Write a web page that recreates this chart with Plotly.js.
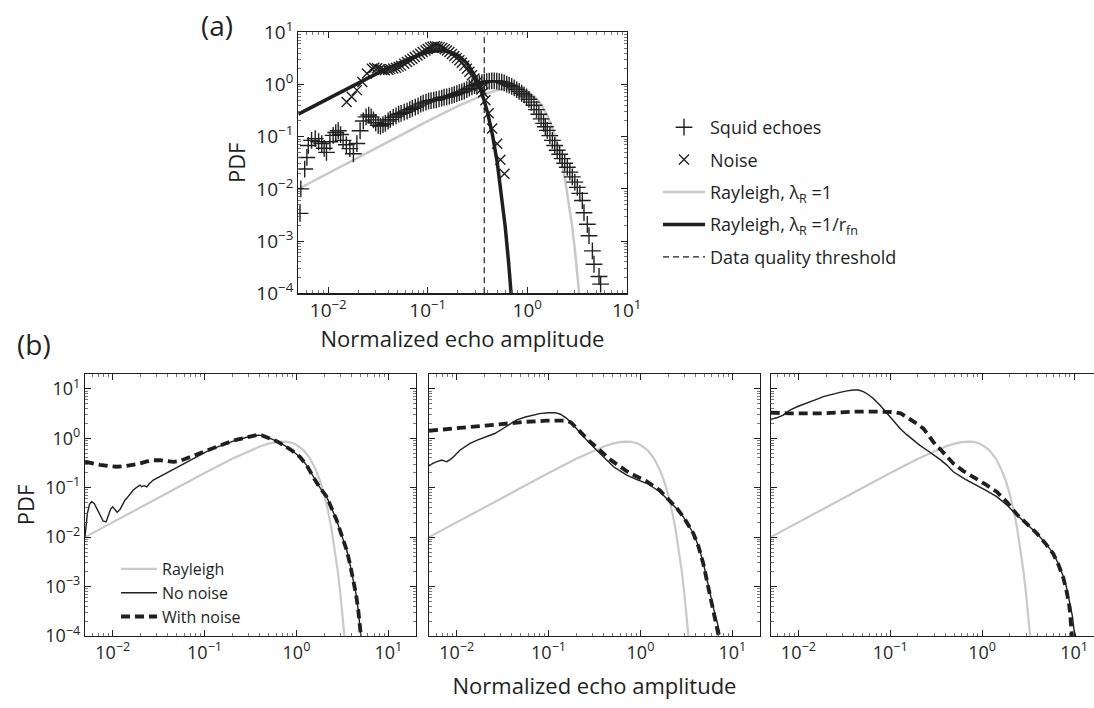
<!DOCTYPE html>
<html><head><meta charset="utf-8">
<script src="https://cdn.plot.ly/plotly-3.0.1.min.js"></script>
<style>html,body{margin:0;padding:0;background:#fff}</style>
</head><body><div id="chart" style="width:1094px;height:708px"></div>
<script>
// ---------- Panel (a) ----------
const rayX = [0.005,0.01,0.02,0.05,0.1,0.2,0.3,0.4,0.5,0.6,0.7,0.8,0.9,1.0,1.2,1.4,1.6,1.8,2.0,2.2,2.4,2.6,2.8,3.0,3.2,3.4];
const rayY = [0.01,0.02,0.04,0.0998,0.198,0.384,0.548,0.681,0.779,0.837,0.857,0.844,0.802,0.736,0.569,0.394,0.246,0.141,0.0733,0.0348,0.0151,0.00604,0.00221,0.00074,0.000229,0.000065];

const fitX = [0.005,0.01,0.02,0.03,0.05,0.07,0.1,0.12,0.14,0.16,0.2,0.25,0.3,0.35,0.4,0.45,0.5,0.55,0.6,0.65,0.7];
const fitY = [0.27,0.538,1.068,1.581,2.524,3.311,4.122,4.393,4.454,4.328,3.668,2.498,1.426,0.691,0.287,0.1025,0.0316,0.0084,0.00194,0.00039,0.000067];

const thrX = [0.37,0.37];
const thrY = [0.0001,10];

const echoX = [0.0052,0.0053,0.0058,0.0061,0.0063,0.0068,0.0074,0.008,0.0086,0.0091,0.0096,0.0104,0.0112,0.0119,0.0126,0.0133,0.0141,0.0152,0.0165,0.0179,0.0194,0.0209,0.0225,0.024,0.0255,0.027,0.0285,0.03,0.0318,0.0335,0.0355,0.0375,0.04,0.042,0.045,0.048,0.051,0.054,0.058,0.062,0.066,0.07,0.075,0.08,0.085,0.09,0.096,0.102,0.108,0.115,0.122,0.13,0.138,0.146,0.155,0.165,0.175,0.185,0.196,0.208,0.22,0.233,0.247,0.262,0.278,0.295,0.312,0.33,0.35,0.37,0.392,0.415,0.44,0.466,0.494,0.523,0.554,0.587,0.622,0.659,0.698,0.74,0.784,0.83,0.88,0.93,0.985,1.04,1.1,1.17,1.24,1.31,1.38,1.46,1.52,1.59,1.69,1.79,1.89,2.0,2.12,2.25,2.38,2.53,2.68,2.84,3.01,3.19,3.38,3.58,3.72,4.02,4.18,4.52,4.69,5.27,5.47];
const echoY = [0.0034,0.01,0.024,0.04,0.068,0.085,0.092,0.08,0.074,0.06,0.05,0.08,0.106,0.12,0.13,0.11,0.085,0.07,0.059,0.047,0.074,0.13,0.2,0.24,0.26,0.24,0.21,0.185,0.165,0.16,0.17,0.18,0.2,0.215,0.235,0.25,0.27,0.28,0.295,0.31,0.33,0.35,0.37,0.39,0.42,0.44,0.46,0.48,0.49,0.5,0.51,0.53,0.55,0.57,0.58,0.6,0.62,0.64,0.67,0.7,0.72,0.75,0.8,0.85,0.9,0.95,1.0,1.04,1.08,1.11,1.14,1.16,1.17,1.17,1.16,1.14,1.11,1.07,1.02,0.97,0.92,0.86,0.8,0.74,0.68,0.63,0.58,0.52,0.46,0.4,0.33,0.27,0.22,0.18,0.155,0.132,0.105,0.085,0.068,0.055,0.046,0.038,0.031,0.026,0.021,0.017,0.0135,0.0107,0.0082,0.006,0.0035,0.0021,0.00127,0.00065,0.00036,0.00021,0.00015];

const noiseX = [0.0153,0.0172,0.0194,0.022,0.0245,0.0275,0.029,0.031,0.033,0.035,0.037,0.04,0.042,0.045,0.048,0.051,0.054,0.058,0.062,0.066,0.07,0.074,0.079,0.084,0.089,0.095,0.1,0.106,0.112,0.118,0.125,0.132,0.14,0.148,0.156,0.165,0.175,0.185,0.196,0.208,0.22,0.233,0.247,0.262,0.278,0.295,0.312,0.33,0.345,0.36,0.38,0.41,0.444,0.499,0.538,0.59];
const noiseY = [0.46,0.58,0.78,1.12,1.63,2.0,2.1,2.05,1.95,1.9,1.88,1.92,1.97,2.02,2.1,2.2,2.3,2.5,2.7,2.9,3.1,3.35,3.6,3.9,4.2,4.5,4.8,5.1,5.3,5.4,5.35,5.2,5.0,4.75,4.5,4.2,3.85,3.5,3.2,2.9,2.6,2.3,2.0,1.75,1.5,1.3,1.1,0.93,0.8,0.7,0.5,0.28,0.143,0.073,0.036,0.0195];

// ---------- Panel (b) ----------
const nn1X = [0.005,0.0053,0.0056,0.0059,0.0063,0.0068,0.0073,0.0079,0.0085,0.009,0.0095,0.01,0.0106,0.0112,0.012,0.0128,0.0136,0.0142,0.015,0.016,0.0168,0.018,0.0198,0.0207,0.022,0.0235,0.025,0.0277,0.03,0.0327,0.036,0.04,0.0457,0.052,0.06,0.075,0.09,0.105,0.13,0.174,0.22,0.29,0.33,0.37,0.42,0.47,0.55,0.65,0.78,0.9,1.09,1.3,1.52,1.8,2.13,2.4,2.74,3.1,3.52,3.85,4.15,4.45,4.71,4.9,5.03];
const nn1Y = [0.0102,0.03,0.046,0.052,0.048,0.036,0.027,0.021,0.0205,0.028,0.037,0.041,0.035,0.032,0.036,0.047,0.056,0.061,0.07,0.083,0.09,0.1,0.113,0.105,0.11,0.104,0.12,0.143,0.155,0.172,0.19,0.21,0.24,0.27,0.31,0.39,0.47,0.54,0.64,0.79,0.92,1.05,1.1,1.16,1.14,1.07,0.95,0.82,0.68,0.56,0.42,0.28,0.166,0.1,0.066,0.04,0.022,0.011,0.0055,0.0027,0.00136,0.0007,0.00033,0.00018,0.0001];
const wn1X = [0.005,0.006,0.0073,0.009,0.0111,0.0135,0.0168,0.02,0.0235,0.028,0.0327,0.039,0.0457,0.054,0.064,0.075,0.089,0.11,0.135,0.174,0.22,0.29,0.33,0.37,0.42,0.47,0.55,0.65,0.78,0.9,1.09,1.3,1.52,1.8,2.13,2.4,2.74,3.1,3.52,3.85,4.15,4.45,4.71,4.9,5.03];
const wn1Y = [0.336,0.31,0.29,0.275,0.266,0.272,0.288,0.31,0.34,0.36,0.36,0.35,0.335,0.35,0.39,0.43,0.5,0.58,0.68,0.8,0.93,1.06,1.11,1.16,1.14,1.07,0.95,0.82,0.68,0.56,0.42,0.28,0.166,0.1,0.066,0.04,0.022,0.011,0.0055,0.0027,0.00136,0.0007,0.00033,0.00018,0.0001];

const nn2X = [0.005,0.0055,0.0061,0.0065,0.0069,0.0074,0.0078,0.0085,0.0092,0.0109,0.0125,0.014,0.017,0.0212,0.026,0.032,0.038,0.045,0.056,0.068,0.08,0.1,0.118,0.133,0.155,0.186,0.22,0.26,0.31,0.363,0.43,0.51,0.6,0.71,0.9,1.17,1.63,2.09,2.5,2.92,3.3,3.76,4.3,4.83,5.25,5.71,6.2,6.75,7.33];
const nn2Y = [0.275,0.31,0.336,0.35,0.363,0.345,0.336,0.37,0.42,0.58,0.68,0.79,0.93,1.07,1.25,1.58,1.95,2.35,2.7,2.95,3.15,3.3,3.3,3.1,2.6,1.86,1.3,0.92,0.66,0.5,0.36,0.266,0.22,0.18,0.148,0.123,0.083,0.052,0.037,0.0259,0.018,0.012,0.0065,0.003,0.0015,0.00073,0.00038,0.00021,0.00011];
const wn2X = [0.005,0.0092,0.0166,0.032,0.0575,0.095,0.157,0.175,0.194,0.23,0.283,0.34,0.394,0.46,0.55,0.7,0.9,1.17,1.63,2.09,2.5,2.92,3.3,3.76,4.3,4.83,5.25,5.71,6.2,6.6,7.1];
const wn2Y = [1.42,1.58,1.71,1.94,2.16,2.27,2.27,2.1,1.71,1.25,0.85,0.64,0.5,0.38,0.3,0.22,0.17,0.135,0.088,0.054,0.038,0.026,0.018,0.012,0.0063,0.0029,0.0014,0.0007,0.00036,0.0002,0.0001];

const nn3X = [0.005,0.0058,0.00686,0.0081,0.0098,0.0123,0.015,0.0187,0.023,0.0284,0.034,0.0396,0.045,0.0509,0.057,0.065,0.077,0.0915,0.108,0.128,0.15,0.178,0.21,0.249,0.3,0.35,0.41,0.485,0.65,0.87,1.1,1.44,1.85,2.38,3.0,3.92,4.9,5.94,6.8,7.64,8.3,9.0,9.6,10.0,10.4];
const nn3Y = [2.42,2.6,2.95,3.73,4.4,5.1,5.9,6.95,7.8,8.5,9.1,9.5,9.5,8.8,7.8,6.45,4.7,3.2,2.3,1.58,1.2,0.92,0.72,0.58,0.46,0.37,0.29,0.21,0.15,0.113,0.088,0.066,0.045,0.028,0.019,0.012,0.0075,0.0047,0.0028,0.0016,0.00095,0.00046,0.00025,0.00013,0.0001];
const wn3X = [0.005,0.0081,0.0187,0.0396,0.0773,0.108,0.13,0.151,0.185,0.229,0.27,0.32,0.35,0.485,0.62,0.8,1.1,1.44,1.85,2.38,3.0,3.92,4.9,5.94,6.8,7.64,8.3,8.9,9.5];
const wn3Y = [3.3,3.2,3.2,3.45,3.45,3.4,3.2,2.73,2.1,1.58,1.05,0.68,0.6,0.31,0.22,0.167,0.115,0.083,0.052,0.029,0.019,0.012,0.0074,0.0046,0.0027,0.0015,0.0008,0.0004,0.0001];

// ---------- Ticks ----------
const xTickVals = [0.01,0.1,1,10];
const xTickText = ['10<sup>−2</sup>','10<sup>−1</sup>','10<sup>0</sup>','10<sup>1</sup>'];
const yTickVals = [0.0001,0.001,0.01,0.1,1,10];
const yTickText = ['10<sup>−4</sup>','10<sup>−3</sup>','10<sup>−2</sup>','10<sup>−1</sup>','10<sup>0</sup>','10<sup>1</sup>'];

function minorList(lo, hi){
  const out=[];
  for(let e=lo;e<=hi;e++){ for(let m=2;m<=9;m++){ out.push(m*Math.pow(10,e)); } }
  return out;
}
const xMinor = minorList(-3,1);
const yMinor = minorList(-4,1);

const INK = '#1f1f1f';
const GRAY = '#c9c9c9';
const FONT = 'Open Sans, Noto Sans, sans-serif';

function minorSpec(vals){
  return {ticks:'inside', ticklen:3, tickwidth:0.8, tickcolor:'#555', tickmode:'array', tickvals:vals, showgrid:false};
}
function axis(extra){
  return Object.assign({
    type:'log', showline:true, linecolor:INK, linewidth:1.2, mirror:'allticks',
    ticks:'inside', ticklen:6, tickwidth:1, tickcolor:INK, showgrid:false, zeroline:false,
    tickmode:'array', automargin:false
  }, extra);
}

const W = 1094, H = 708;
const px = v => v / W;
const py = v => 1 - v / H;

const traces = [
  // panel a
  {x:rayX, y:rayY, xaxis:'x', yaxis:'y', mode:'lines', name:'Rayleigh, λ<sub>R</sub> =1',
   line:{color:GRAY, width:2.5}, legend:'legend', legendgroup:'a3', legendrank:3},
  {x:thrX, y:thrY, xaxis:'x', yaxis:'y', mode:'lines', name:'Data quality threshold',
   line:{color:INK, width:1.2, dash:'6px,4px'}, legend:'legend', legendgroup:'a5', legendrank:5},
  {x:echoX, y:echoY, xaxis:'x', yaxis:'y', mode:'markers', name:'Squid echoes',
   marker:{symbol:'cross-thin', size:12, color:INK, line:{color:INK, width:1.4}},
   legend:'legend', legendgroup:'a1', legendrank:1},
  {x:noiseX, y:noiseY, xaxis:'x', yaxis:'y', mode:'markers', name:'Noise',
   marker:{symbol:'x-thin', size:10, color:INK, line:{color:INK, width:1.4}},
   legend:'legend', legendgroup:'a2', legendrank:2},
  {x:fitX, y:fitY, xaxis:'x', yaxis:'y', mode:'lines', name:'Rayleigh, λ<sub>R</sub> =1/r<sub>fn</sub>',
   line:{color:INK, width:3.5}, legend:'legend', legendgroup:'a4', legendrank:4},

  // panel b - 1
  {x:rayX, y:rayY, xaxis:'x2', yaxis:'y2', mode:'lines', name:'Rayleigh',
   line:{color:GRAY, width:2.2}, legend:'legend2', legendrank:1},
  {x:nn1X, y:nn1Y, xaxis:'x2', yaxis:'y2', mode:'lines', name:'No noise',
   line:{color:INK, width:1.4}, legend:'legend2', legendrank:2},
  {x:wn1X, y:wn1Y, xaxis:'x2', yaxis:'y2', mode:'lines', name:'With noise',
   line:{color:INK, width:3.8, dash:'9px,5px'}, legend:'legend2', legendrank:3},
  // panel b - 2
  {x:rayX, y:rayY, xaxis:'x3', yaxis:'y3', mode:'lines', showlegend:false, line:{color:GRAY, width:2.2}},
  {x:nn2X, y:nn2Y, xaxis:'x3', yaxis:'y3', mode:'lines', showlegend:false, line:{color:INK, width:1.4}},
  {x:wn2X, y:wn2Y, xaxis:'x3', yaxis:'y3', mode:'lines', showlegend:false, line:{color:INK, width:3.8, dash:'9px,5px'}},
  // panel b - 3
  {x:rayX, y:rayY, xaxis:'x4', yaxis:'y4', mode:'lines', showlegend:false, line:{color:GRAY, width:2.2}},
  {x:nn3X, y:nn3Y, xaxis:'x4', yaxis:'y4', mode:'lines', showlegend:false, line:{color:INK, width:1.4}},
  {x:wn3X, y:wn3Y, xaxis:'x4', yaxis:'y4', mode:'lines', showlegend:false, line:{color:INK, width:3.8, dash:'9px,5px'}}
];

const LA = Math.log10(0.005);
const tickFontA = {family:FONT, size:19, color:INK};
const tickFontB = {family:FONT, size:18, color:INK};
const titleFont = {family:FONT, size:22, color:INK};

const layout = {
  width:W, height:H, autosize:false,
  margin:{l:0, r:0, t:0, b:0},
  paper_bgcolor:'#fff', plot_bgcolor:'#fff',
  font:{family:FONT, color:INK},
  showlegend:true,
  xaxis: axis({domain:[px(298.3), px(626.7)], anchor:'y', range:[LA, 1],
    tickvals:xTickVals, ticktext:xTickText, tickfont:tickFontA, minor:minorSpec(xMinor),
    title:{text:'Normalized echo amplitude', font:titleFont, standoff:6}}),
  yaxis: axis({domain:[py(293.3), py(32.3)], anchor:'x', range:[-4, 1],
    tickvals:yTickVals, ticktext:yTickText, tickfont:tickFontA, minor:minorSpec(yMinor),
    title:{text:'PDF', font:titleFont, standoff:4}}),

  xaxis2: axis({domain:[px(85), px(416)], anchor:'y2', range:[LA, Math.log10(20)],
    tickvals:xTickVals, ticktext:xTickText, tickfont:tickFontB, minor:minorSpec(xMinor)}),
  yaxis2: axis({domain:[py(636), py(374)], anchor:'x2', range:[-4, Math.log10(20)],
    tickvals:yTickVals, ticktext:yTickText, tickfont:tickFontB, minor:minorSpec(yMinor),
    title:{text:'PDF', font:titleFont, standoff:4}}),

  xaxis3: axis({domain:[px(429), px(760)], anchor:'y3', range:[LA, Math.log10(20)],
    tickvals:xTickVals, ticktext:xTickText, tickfont:tickFontB, minor:minorSpec(xMinor),
    title:{text:'Normalized echo amplitude', font:titleFont, standoff:15}}),
  yaxis3: axis({domain:[py(636), py(374)], anchor:'x3', range:[-4, Math.log10(20)],
    tickvals:yTickVals, ticktext:yTickText, showticklabels:false, minor:minorSpec(yMinor)}),

  xaxis4: axis({domain:[px(770.7), 1], anchor:'y4', range:[LA, LA + (W-770.7)/91.9],
    tickvals:xTickVals, ticktext:xTickText, tickfont:tickFontB, minor:minorSpec(xMinor)}),
  yaxis4: axis({domain:[py(636), py(374)], anchor:'x4', range:[-4, Math.log10(20)], mirror:false,
    tickvals:yTickVals, ticktext:yTickText, showticklabels:false, minor:minorSpec(yMinor)}),

  legend: {x:px(658), y:py(109), xanchor:'left', yanchor:'top', font:{family:FONT, size:18, color:INK},
    itemwidth:42, tracegroupgap:6, bgcolor:'rgba(0,0,0,0)', borderwidth:0, traceorder:'grouped'},
  legend2: {x:px(116), y:py(552), xanchor:'left', yanchor:'top', font:{family:FONT, size:16, color:INK},
    itemwidth:36, tracegroupgap:0, bgcolor:'rgba(0,0,0,0)', borderwidth:0, traceorder:'normal'},

  annotations: [
    {text:'(a)', xref:'paper', yref:'paper', x:px(217), y:py(25), xanchor:'center', yanchor:'middle',
     showarrow:false, font:{family:FONT, size:28, color:INK}},
    {text:'(b)', xref:'paper', yref:'paper', x:px(34), y:py(344), xanchor:'center', yanchor:'middle',
     showarrow:false, font:{family:FONT, size:28, color:INK}}
  ]
};

Plotly.newPlot('chart', traces, layout, {displayModeBar:false, staticPlot:true});
</script></body></html>
